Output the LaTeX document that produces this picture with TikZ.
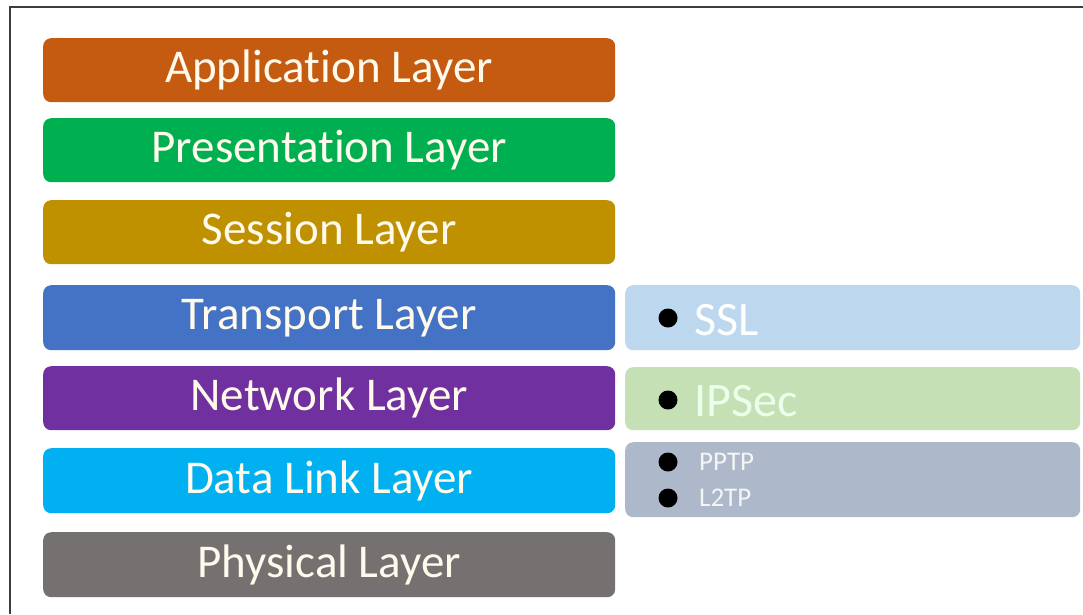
\documentclass[tikz,border=0pt]{standalone}
\usepackage{fontspec}
\setmainfont[Ligatures=NoCommon]{Carlito}
\definecolor{cApp}{RGB}{197,90,17}
\definecolor{cPres}{RGB}{0,176,80}
\definecolor{cSes}{RGB}{191,144,0}
\definecolor{cTra}{RGB}{68,114,196}
\definecolor{cNet}{RGB}{112,48,160}
\definecolor{cDat}{RGB}{0,176,240}
\definecolor{cPhy}{RGB}{118,113,113}
\definecolor{cSSL}{RGB}{189,215,238}
\definecolor{cIPS}{RGB}{197,224,180}
\definecolor{cPPT}{RGB}{173,185,202}
\definecolor{cFrame}{RGB}{60,60,60}
\definecolor{txtL}{RGB}{255,250,235}
\tikzset{
  layerbox/.style={rounded corners=8pt, minimum width=572pt, minimum height=64pt,
    inner sep=0pt, text=txtL, font=\fontsize{47}{52}\selectfont, anchor=north west},
  protobox/.style={rounded corners=8pt, minimum width=455pt, minimum height=65pt,
    inner sep=0pt, anchor=north west},
  bulletdot/.style={circle, fill=black, minimum size=19pt, inner sep=0pt},
  bigproto/.style={font=\fontsize{48}{52}\selectfont, anchor=west, inner sep=0pt},
  smallproto/.style={font=\fontsize{27}{30}\selectfont, anchor=west, inner sep=0pt, text=white!92!gray}
}
\begin{document}
\begin{tikzpicture}[x=1pt,y=-1pt]
\useasboundingbox (0,0) rectangle (1083,614);
\fill[white] (0,0) rectangle (1083,614);
\draw[cFrame, line width=2.5pt] (10,614) -- (10,7) -- (1083,7);
% left layer boxes
\node[layerbox, fill=cApp]  (app)  at (43,38)  {Application Layer};
\node[layerbox, fill=cPres] (pres) at (43,118) {Presentation Layer};
\node[layerbox, fill=cSes]  (ses)  at (43,200) {Session Layer};
\node[layerbox, fill=cTra, minimum height=65pt]  (tra)  at (43,285) {Transport Layer};
\node[layerbox, fill=cNet]  (net)  at (43,366) {Network Layer};
\node[layerbox, fill=cDat, minimum height=65pt]  (dat)  at (43,448) {Data Link Layer};
\node[layerbox, fill=cPhy, minimum height=65pt]  (phy)  at (43,532) {Physical Layer};
% right protocol boxes
\node[protobox, fill=cSSL] (ssl) at (625,285) {};
\node[protobox, fill=cIPS, minimum height=63pt] (ips) at (625,367) {};
\node[protobox, fill=cPPT, minimum height=75pt] (ppt) at (625,442) {};
% bullets and labels
\node[bulletdot] (b1) at (668,318) {};
\node[bigproto, text=white] (tssl) at (694,320) {SSL};
\node[bulletdot] (b2) at (668,400) {};
\node[bigproto, text=green!8!white] (tips) at (694,401) {IPSec};
\node[bulletdot] (b3) at (668,462) {};
\node[smallproto] (tppt) at (699,462) {PPTP};
\node[bulletdot] (b4) at (668,498) {};
\node[smallproto] (tl2t) at (699,498) {L2TP};
\end{tikzpicture}
\end{document}
